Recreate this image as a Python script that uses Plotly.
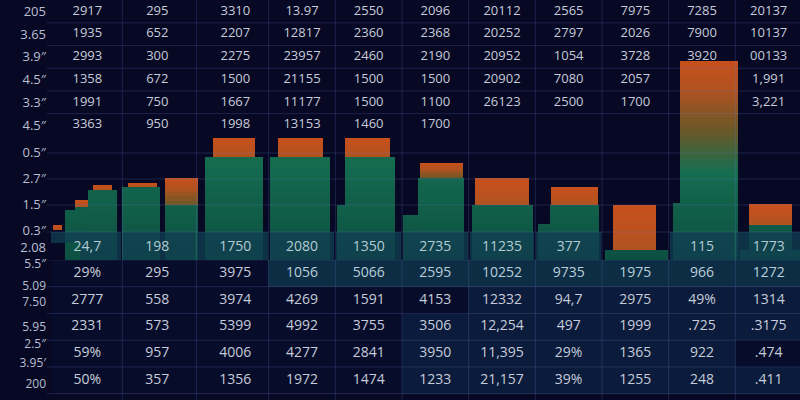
import plotly.graph_objects as go

# ---------------- data ----------------
top_labels = ["205", "3.65", "3.9″", "4.5″", "3.3″", "4.5″"]
mid_labels = ["0.5″", "2.7″", "1.5″", "0.3″", "2.08"]
bottom_labels = ["5.5″", "5.09", "7.50", "5.95", "2.5″", "3.95′", "200"]

top_table = [
    ["2917", "295", "3310", "13.97", "2550", "2096", "20112", "2565", "7975", "7285", "20137"],
    ["1935", "652", "2207", "12817", "2360", "2368", "20252", "2797", "2026", "7900", "10137"],
    ["2993", "300", "2275", "23957", "2460", "2190", "20952", "1054", "3728", "3920", "00133"],
    ["1358", "672", "1500", "21155", "1500", "1500", "20902", "7080", "2057", "", "1,991"],
    ["1991", "750", "1667", "11177", "1500", "1100", "26123", "2500", "1700", "", "3,221"],
    ["3363", "950", "1998", "13153", "1460", "1700", "", "", "", "", ""],
]
band_values = ["24,7", "198", "1750", "2080", "1350", "2735", "11235", "377", "", "115", "1773"]
bottom_table = [
    ["29%", "295", "3975", "1056", "5066", "2595", "10252", "9735", "1975", "966", "1272"],
    ["2777", "558", "3974", "4269", "1591", "4153", "12332", "94,7", "2975", "49%", "1314"],
    ["2331", "573", "5399", "4992", "3755", "3506", "12,254", "497", "1999", ".725", ".3175"],
    ["59%", "957", "4006", "4277", "2841", "3950", "11,395", "29%", "1365", "922", ".474"],
    ["50%", "357", "1356", "1972", "1474", "1233", "21,157", "39%", "1255", "248", ".411"],
]
cell_shade = [
    [0, 0, 0, 2, 2, 2, 2, 2, 2, 2, 2],
    [0, 0, 0, 0, 0, 0, 1, 1, 1, 1, 1],
    [0, 0, 0, 0, 0, 1, 1, 1, 1, 1, 1],
    [0, 0, 0, 0, 0, 1, 1, 1, 1, 1, 0],
    [0, 0, 0, 0, 0, 1, 1, 1, 1, 1, 1],
]
green_main = [7.0, 7.3, 10.3, 10.3, 10.3, 8.2, 5.5, 5.5, 1.0, 5.7, 3.5]
orange_cap = [0.5, 0.4, 1.9, 1.9, 1.9, 1.5, 2.7, 1.8, 4.5, 14.2, 2.1]
step_green = [5.3, 5.5, None, None, 5.5, 4.5, None, 3.6, None, None, 1.0]
step_cap = [0.7, 2.7, None, None, None, None, None, None, None, None, None]
first_col_low_step = 5.0
first_col_float_cap = 0.5
first_col_float_base = 3.0
band_height = 2.8

# ---------------- layout / style ----------------
col_pos = [0.78, 1.83, 3, 4, 5, 6, 7, 8, 9, 10, 11]
main_off = [0.23, -0.245, -0.02, -0.03, 0.02, 0.085, 0.01, 0.09, 0.02, 0.05, 0.03]
main_w = [0.435, 0.57, 0.87, 0.9, 0.75, 0.69, 0.915, 0.735, 0.945, 0.975, 0.645]
cap_off = [0.23, -0.22, -0.02, -0.02, -0.02, 0.085, 0.0, 0.09, -0.01, 0.105, 0.03]
cap_w = [0.285, 0.435, 0.63, 0.675, 0.675, 0.645, 0.81, 0.705, 0.645, 0.87, 0.645]
step_off = [-0.09, 0.36, 0, 0, -0.415, -0.37, 0, -0.37, 0, 0, 0.02]
step_w = [0.195, 0.495, 0, 0, 0.12, 0.225, 0, 0.18, 0, 0, 0.9]

BG = "#060824"
GREEN_LO = (12, 80, 66)
GREEN_HI = (22, 110, 80)
ORANGE = (200, 80, 28)
ORANGE_LO = (176, 82, 32)
OLIVE = (104, 88, 40)
FONT = "Open Sans"
TXT = "#c6ccd9"


def lerp(c0, c1, t):
    return tuple(int(round(a + (b - a) * t)) for a, b in zip(c0, c1))


def stop_color(stops, t):
    for (f0, c0), (f1, c1) in zip(stops[:-1], stops[1:]):
        if t <= f1:
            return lerp(c0, c1, (t - f0) / (f1 - f0) if f1 > f0 else 0)
    return stops[-1][1]


def green_at(v):
    return lerp(GREEN_LO, GREEN_HI, min(max(v / 11.0, 0), 1))


bx, bw, bb, bh, bc = [], [], [], [], []


def piece(xc, w, base, h, color_fn, n=10):
    for i in range(n):
        f0 = i / n
        c = color_fn(base + h * (f0 + 0.5 / n), (f0 + 0.5 / n))
        bx.append(xc)
        bw.append(w)
        bb.append(base + h * f0)
        bh.append(h / n * (1.04 if i < n - 1 else 1.0))
        bc.append("rgb(%d,%d,%d)" % c)


def green_fn(v, t):
    return green_at(v)


def orange_fn(v, t):
    return lerp(ORANGE_LO, ORANGE, t)


def orange_olive_fn(v, t):
    return stop_color([(0, OLIVE), (0.6, ORANGE_LO), (1, ORANGE)], t)


def tall_fn(v, t):
    return stop_color([(0, green_at(5.7)), (0.22, GREEN_HI), (0.5, OLIVE),
                       (0.8, ORANGE_LO), (1, ORANGE)], t)


# first column extra pieces
piece(col_pos[0] - 0.26, 0.15, 0, first_col_low_step, green_fn)
piece(col_pos[0] - 0.45, 0.135, first_col_float_base, first_col_float_cap, orange_fn, 2)

# step bars
for k in range(11):
    if step_green[k] is not None:
        xc = col_pos[k] + step_off[k]
        piece(xc, step_w[k], 0, step_green[k], green_fn)
        if step_cap[k] is not None:
            fn = orange_olive_fn if step_cap[k] > 1.5 else orange_fn
            piece(xc, step_w[k], step_green[k], step_cap[k], fn, 6)

# main bars + caps
for k in range(11):
    xc = col_pos[k] + main_off[k]
    piece(xc, main_w[k], 0, green_main[k], green_fn)
    if k == 9:
        fn, n = tall_fn, 40
    elif k == 5:
        fn, n = orange_olive_fn, 8
    else:
        fn, n = orange_fn, 6
    piece(col_pos[k] + cap_off[k], cap_w[k], green_main[k], orange_cap[k], fn, n)

fig = go.Figure()
fig.add_trace(go.Bar(x=bx, y=bh, base=bb, width=bw, marker=dict(color=bc, line=dict(width=0)),
                     xaxis="x", yaxis="y", showlegend=False, hoverinfo="skip"))

# band cells
bounds = [0.22] + [(a + b) / 2 for a, b in zip(col_pos[:-1], col_pos[1:])] + [11.5]
band_x, band_w, band_b, band_h = [], [], [], []
for k in range(11):
    if band_values[k] == "":
        continue
    l, r = bounds[k] + 0.015, bounds[k + 1] - 0.015
    if k == 0:
        band_x += [(l + r) / 2, (0.67 + r) / 2]
        band_w += [r - l, r - 0.67]
        band_b += [1.7, 0]
        band_h += [band_height - 1.7, 1.7]
    else:
        band_x.append((l + r) / 2)
        band_w.append(r - l)
        band_b.append(0)
        band_h.append(band_height)
fig.add_trace(go.Bar(x=band_x, y=band_h, base=band_b, width=band_w,
                     marker=dict(color="rgb(16,62,80)", line=dict(width=0)), opacity=0.78,
                     xaxis="x", yaxis="y", showlegend=False, hoverinfo="skip"))
fig.add_trace(go.Scatter(x=col_pos, y=[1.3] * 11, text=band_values, mode="text",
                         textfont=dict(family=FONT, size=14, color="#b4cbd4"),
                         xaxis="x", yaxis="y", showlegend=False, hoverinfo="skip"))

# top table text
tx, ty, tt = [], [], []
for i, row in enumerate(top_table):
    for k, v in enumerate(row):
        tx.append(col_pos[k])
        ty.append(i)
        tt.append(v)
fig.add_trace(go.Scatter(x=tx, y=ty, text=tt, mode="text",
                         textfont=dict(family=FONT, size=13, color=TXT),
                         xaxis="x", yaxis="y2", showlegend=False, hoverinfo="skip"))

# bottom table
fig.add_trace(go.Heatmap(x=col_pos, y=list(range(5)), z=cell_shade, zmin=0, zmax=2,
                         colorscale=[[0, "#080c2b"], [0.5, "#0b1b3b"], [1, "#0d2d45"]],
                         showscale=False, xaxis="x", yaxis="y3", hoverinfo="skip"))
sx, sy, st, sc = [], [], [], []
for i, row in enumerate(bottom_table):
    for k, v in enumerate(row):
        sx.append(col_pos[k])
        sy.append(i)
        st.append(v)
        sc.append("#b9d0da" if cell_shade[i][k] == 2 else TXT)
fig.add_trace(go.Scatter(x=sx, y=sy, text=st, mode="text",
                         textfont=dict(family=FONT, size=14, color=sc),
                         xaxis="x", yaxis="y3", showlegend=False, hoverinfo="skip"))

# grid lines
GRID = "rgba(105,120,195,0.24)"
shapes = []
for b in bounds[1:-1]:
    shapes.append(dict(type="line", xref="x", yref="paper", x0=b, x1=b, y0=0, y1=1,
                       line=dict(color=GRID, width=1), layer="above"))
for r in [0.5, 1.5, 2.5, 3.5, 4.5, 5.5]:
    shapes.append(dict(type="line", xref="paper", yref="y2", x0=0, x1=1, y0=r, y1=r,
                       line=dict(color=GRID, width=1), layer="above"))
for v in [10.7, 8.1, 5.5, band_height]:
    shapes.append(dict(type="line", xref="paper", yref="y", x0=0, x1=1, y0=v, y1=v,
                       line=dict(color=GRID, width=1), layer="above"))
for r in [-0.5, 0.5, 1.5, 2.5, 3.5, 4.5]:
    shapes.append(dict(type="line", xref="paper", yref="y3", x0=0, x1=1, y0=r, y1=r,
                       line=dict(color=GRID, width=1), layer="above"))

tickfont = dict(family=FONT, size=13, color="#b9bfd0")
tickfont_small = dict(family=FONT, size=12, color="#b9bfd0")
fig.update_layout(
    template="none",
    width=800, height=400,
    margin=dict(l=47, r=0, t=0, b=0),
    paper_bgcolor=BG, plot_bgcolor="rgba(0,0,0,0)",
    barmode="overlay", bargap=0,
    showlegend=False, hovermode=False,
    shapes=shapes,
    xaxis=dict(range=[0.175, 11.47], showgrid=False, zeroline=False, showticklabels=False,
               showline=False, fixedrange=True),
    yaxis=dict(domain=[0.35, 1], range=[0, 26], showgrid=False, zeroline=False,
               tickvals=[10.8, 8.2, 5.6, 3.0, 1.3], ticktext=mid_labels, tickfont=tickfont,
               ticks="", showline=False, automargin=False, fixedrange=True),
    yaxis2=dict(domain=[0.6625, 1], range=[5.44, -0.507], anchor="x", showgrid=False,
                zeroline=False, tickvals=list(range(6)), ticktext=top_labels, tickfont=tickfont,
                ticks="", showline=False, automargin=False, fixedrange=True),
    yaxis3=dict(domain=[0, 0.35], range=[4.737, -0.497], anchor="x", showgrid=False,
                zeroline=False, tickvals=[-0.34, 0.47, 1.06, 1.99, 2.62, 3.34, 4.12],
                ticktext=bottom_labels, tickfont=tickfont_small, ticks="", showline=False,
                automargin=False, fixedrange=True),
)

fig.write_html("out.html", config={"displayModeBar": False},
               post_script="document.body.style.margin='0';document.body.style.overflow='hidden';")
